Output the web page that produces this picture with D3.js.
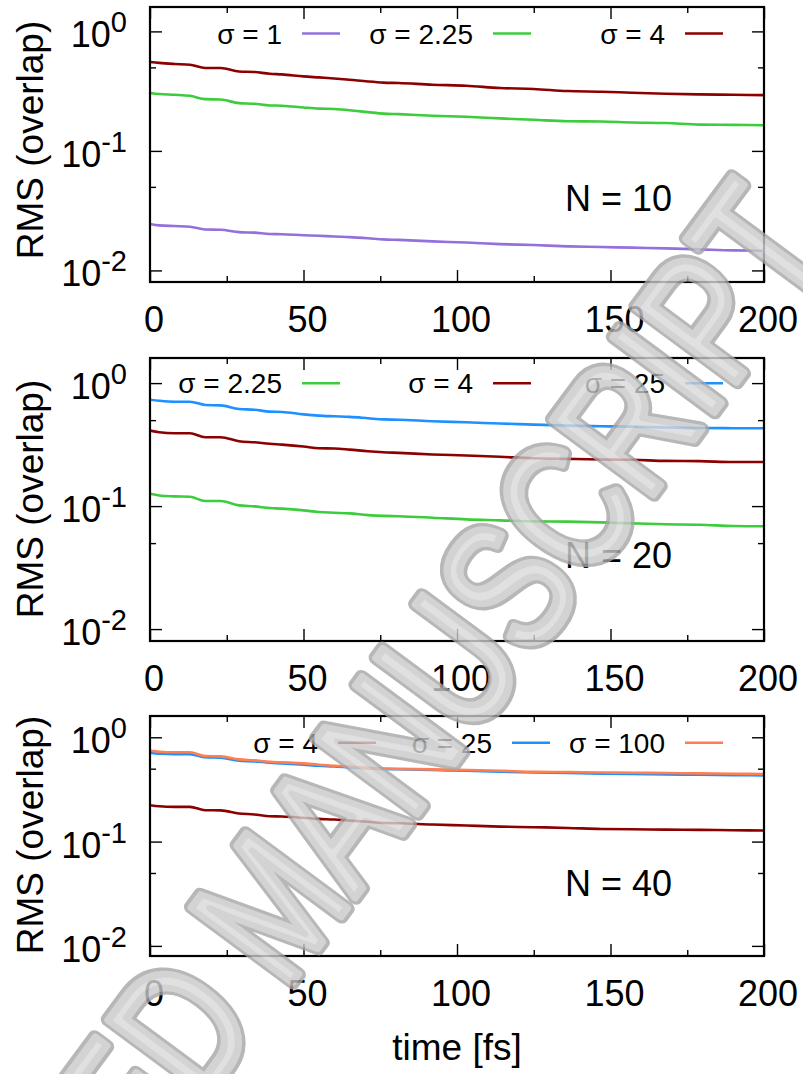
<!DOCTYPE html>
<html><head><meta charset="utf-8">
<script src="https://cdn.jsdelivr.net/npm/d3@7"></script>
<style>
body{margin:0;background:#fff}
text{font-family:"Liberation Sans",Arial,Helvetica,sans-serif}
.lab{fill:#000}
</style>
</head><body>
<svg id="chart" width="803" height="1074"></svg>
<script>
// ---------------- data ----------------
const time = [0, 3, 8, 13, 18, 23, 29, 34, 39, 43, 50, 55, 60, 65, 71, 76, 81, 92, 103, 114, 125, 136, 147, 157, 168, 179, 190, 200];

const n10_sigma1    = [.0245,.0238,.0235,.0232,.0220,.0219,.0209,.0207,.0202,.0201,.0197,.0195,.0192,.0190,.0186,.0182,.0180,.0175,.0171,.0166,.0163,.0159,.0157,.0155,.0153,.0150,.0147,.0146];
const n10_sigma2_25 = [.305,.299,.295,.289,.271,.269,.251,.248,.240,.239,.231,.226,.224,.219,.211,.205,.203,.197,.193,.187,.182,.177,.176,.173,.171,.166,.165,.164];
const n10_sigma4    = [.555,.545,.534,.526,.494,.494,.462,.457,.442,.437,.420,.412,.404,.394,.381,.373,.370,.358,.351,.336,.330,.317,.313,.307,.301,.297,.295,.293];

const n20_sigma2_25 = [.126,.122,.120,.119,.110,.110,.1013,.0995,.0964,.0953,.0923,.0894,.0883,.0872,.0845,.0832,.0827,.0805,.0780,.0766,.0751,.0747,.0737,.0724,.0711,.0706,.0689,.0685];
const n20_sigma4    = [.411,.398,.391,.391,.363,.363,.337,.330,.321,.316,.305,.295,.294,.288,.279,.274,.271,.263,.258,.252,.245,.242,.239,.238,.233,.232,.228,.228];
const n20_sigma25   = [.733,.719,.706,.706,.664,.659,.616,.608,.586,.583,.557,.544,.537,.531,.518,.507,.504,.489,.480,.469,.460,.451,.446,.443,.435,.432,.430,.430];

const n40_sigma4    = [.223,.218,.215,.215,.200,.199,.186,.182,.175,.174,.169,.165,.163,.159,.155,.151,.150,.1456,.1425,.1393,.1374,.1352,.1322,.1312,.1303,.1294,.1285,.1276];
const n40_sigma25   = [.711,.695,.690,.690,.643,.637,.596,.588,.570,.562,.546,.533,.526,.515,.504,.496,.494,.485,.478,.467,.460,.454,.447,.444,.441,.437,.434,.431];
const n40_sigma100  = [.743,.727,.718,.718,.661,.656,.614,.601,.582,.575,.562,.546,.533,.521,.510,.501,.498,.492,.485,.478,.467,.464,.460,.457,.454,.451,.447,.444];

const xTicks = [0, 50, 100, 150, 200];
const xMinorTicks = [25, 75, 125, 175];
const yTickExponents = [0, -1, -2];
const yMinorTicks = [0.5, 0.05];
const xDomain = [0, 200];
const yDomain = [0.008, 1.6];

const panelNames = ["N = 10", "N = 20", "N = 40"];
const yLabel = "RMS (overlap)";
const xLabel = "time [fs]";
const watermarkText = "ACCEPTED MANUSCRIPT";

const colors = {s1:"#9370db", s2:"#3ccc3c", s4:"#8b0000", s25:"#1e90ff", s100:"#ff7f50"};

const panels = [
  {name: panelNames[0], top: 7, bottom: 282, legY: 33.5, legX: [302, 493, 685], ylabC: 140, nBase: 210.7,
   series: [{label:"σ = 1", values:n10_sigma1, color:colors.s1},
            {label:"σ = 2.25", values:n10_sigma2_25, color:colors.s2},
            {label:"σ = 4", values:n10_sigma4, color:colors.s4}]},
  {name: panelNames[1], top: 358, bottom: 641, legY: 383.3, legX: [302, 493, 685], ylabC: 499, nBase: 568.3,
   series: [{label:"σ = 2.25", values:n20_sigma2_25, color:colors.s2},
            {label:"σ = 4", values:n20_sigma4, color:colors.s4},
            {label:"σ = 25", values:n20_sigma25, color:colors.s25}]},
  {name: panelNames[2], top: 716, bottom: 956, legY: 742.7, legX: [338, 512, 685], ylabC: 835, nBase: 895.5,
   series: [{label:"σ = 4", values:n40_sigma4, color:colors.s4},
            {label:"σ = 25", values:n40_sigma25, color:colors.s25},
            {label:"σ = 100", values:n40_sigma100, color:colors.s100}]}
];

// ---------------- drawing ----------------
const svg = d3.select("#chart");
const L = 150, R = 764;
const x = d3.scaleLinear().domain(xDomain).range([L, R]);

panels.forEach(p => {
  const y = d3.scaleLog().domain(yDomain).range([p.bottom, p.top]);
  const g = svg.append("g");

  const cid = "clip" + p.top;
  svg.append("clipPath").attr("id", cid).append("rect")
     .attr("x", L).attr("y", p.top).attr("width", R - L).attr("height", p.bottom - p.top);

  const line = d3.line().x((d, i) => x(time[i])).y(d => y(d)).curve(d3.curveMonotoneX);
  p.series.forEach(s => {
    g.append("path").attr("d", line(s.values)).attr("fill", "none")
     .attr("stroke", s.color).attr("stroke-width", 2.6).attr("clip-path", `url(#${cid})`);
  });

  const majorY = yTickExponents.map(e => Math.pow(10, e));
  const styleAxis = sel => { sel.select(".domain").remove(); sel.selectAll("line").attr("stroke", "#000").attr("stroke-width", 1.4); sel.selectAll("text").remove(); };
  g.append("g").attr("transform", `translate(0,${p.bottom})`).call(d3.axisBottom(x).tickValues(xTicks).tickSize(-12).tickFormat("")).call(styleAxis);
  g.append("g").attr("transform", `translate(0,${p.bottom})`).call(d3.axisBottom(x).tickValues(xMinorTicks).tickSize(-6).tickFormat("")).call(styleAxis);
  g.append("g").attr("transform", `translate(0,${p.top})`).call(d3.axisTop(x).tickValues(xTicks).tickSize(-12).tickFormat("")).call(styleAxis);
  g.append("g").attr("transform", `translate(0,${p.top})`).call(d3.axisTop(x).tickValues(xMinorTicks).tickSize(-6).tickFormat("")).call(styleAxis);
  g.append("g").attr("transform", `translate(${L},0)`).call(d3.axisLeft(y).tickValues(majorY).tickSize(-12).tickFormat("")).call(styleAxis);
  g.append("g").attr("transform", `translate(${L},0)`).call(d3.axisLeft(y).tickValues(yMinorTicks).tickSize(-6).tickFormat("")).call(styleAxis);
  g.append("g").attr("transform", `translate(${R},0)`).call(d3.axisRight(y).tickValues(majorY).tickSize(-12).tickFormat("")).call(styleAxis);
  g.append("g").attr("transform", `translate(${R},0)`).call(d3.axisRight(y).tickValues(yMinorTicks).tickSize(-6).tickFormat("")).call(styleAxis);

  g.append("rect").attr("x", L).attr("y", p.top).attr("width", R - L).attr("height", p.bottom - p.top)
   .attr("fill", "none").attr("stroke", "#000").attr("stroke-width", 2.2);

  xTicks.forEach(v => {
    g.append("text").attr("class", "lab").attr("x", x(v) + 4).attr("y", p.bottom + 50).attr("text-anchor", "middle")
     .attr("font-size", 36).text(v);
  });
  yTickExponents.forEach(e => {
    const t = g.append("text").attr("class", "lab").attr("x", 127).attr("y", y(Math.pow(10, e)) + 16)
      .attr("text-anchor", "end").attr("font-size", 36);
    t.append("tspan").text("10");
    t.append("tspan").attr("dy", -15).attr("font-size", 29).text(e === 0 ? "0" : "-" + Math.abs(e));
  });
  g.append("text").attr("class", "lab").attr("transform", `translate(43,${p.ylabC}) rotate(-90)`)
   .attr("text-anchor", "middle").attr("font-size", 37).text(yLabel);

  p.series.forEach((s, i) => {
    const lx = p.legX[i];
    g.append("text").attr("class", "lab").attr("x", lx - 20).attr("y", p.legY + 10).attr("text-anchor", "end")
     .attr("font-size", 28).text(s.label);
    g.append("line").attr("x1", lx).attr("x2", lx + 38).attr("y1", p.legY).attr("y2", p.legY)
     .attr("stroke", s.color).attr("stroke-width", 2.6);
  });

  g.append("text").attr("class", "lab").attr("x", 565).attr("y", p.nBase).attr("font-size", 36).text(p.name);
});

svg.append("text").attr("class", "lab").attr("x", 457).attr("y", 1060).attr("text-anchor", "middle")
   .attr("font-size", 37).text(xLabel);

// watermark (drawn over the chart, semi-transparent)
const wm = svg.append("g").attr("transform", "translate(322,942) rotate(-53.5) scale(1,1.3)").attr("opacity", 0.8);
wm.append("text").attr("text-anchor", "middle").attr("font-size", 140)
  .style("fill", "none").style("stroke", "#a6a6a6").style("stroke-width", 12).style("stroke-linejoin", "round")
  .text(watermarkText);
wm.append("text").attr("text-anchor", "middle").attr("font-size", 140)
  .style("fill", "#d9d9d9").style("stroke", "#c9c9c9").style("stroke-width", 6).style("stroke-linejoin", "round")
  .text(watermarkText);
</script>
</body></html>
